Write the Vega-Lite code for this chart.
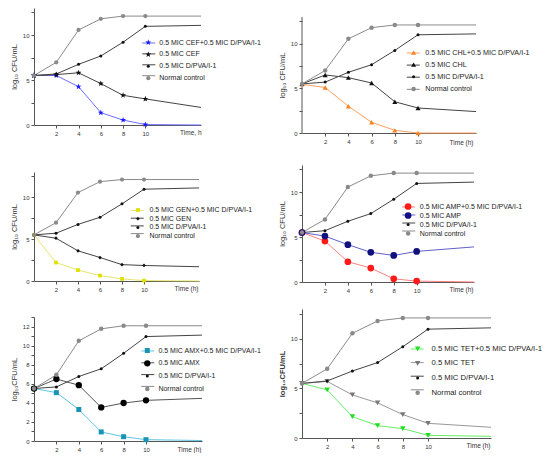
{
  "$schema": "https://vega.github.io/schema/vega-lite/v6.json",
  "padding": {"left": 10, "top": 8, "right": 0, "bottom": 0},
  "config": {
    "view": {"stroke": null},
    "font": "Liberation Sans",
    "axis": {"grid": false, "domainColor": "#555", "tickColor": "#555", "labelColor": "#333", "labelFontSize": 6, "titleFontSize": 7.5, "titleFontWeight": "normal", "titleColor": "#333", "tickSize": 3, "labelPadding": 2, "domainWidth": 1, "tickWidth": 1},
    "legend": {"padding": 0, "labelFontSize": 7, "labelColor": "#222", "title": null, "symbolStrokeWidth": 0}
  },
  "data": {"values": [
    {"p":1,"k":"a","s":"0.5 MIC CEF+0.5 MIC D/PVA/I-1","t":0,"y":5.5},{"p":1,"k":"a","s":"0.5 MIC CEF+0.5 MIC D/PVA/I-1","t":2,"y":5.5},{"p":1,"k":"a","s":"0.5 MIC CEF+0.5 MIC D/PVA/I-1","t":4,"y":4.26},{"p":1,"k":"a","s":"0.5 MIC CEF+0.5 MIC D/PVA/I-1","t":6,"y":1.37},{"p":1,"k":"a","s":"0.5 MIC CEF+0.5 MIC D/PVA/I-1","t":8,"y":0.55},{"p":1,"k":"a","s":"0.5 MIC CEF+0.5 MIC D/PVA/I-1","t":10,"y":0.05},{"p":1,"k":"a","s":"0.5 MIC CEF+0.5 MIC D/PVA/I-1","t":15,"y":0.0},
    {"p":1,"k":"b","s":"0.5 MIC CEF","t":0,"y":5.5},{"p":1,"k":"b","s":"0.5 MIC CEF","t":2,"y":5.6},{"p":1,"k":"b","s":"0.5 MIC CEF","t":4,"y":5.8},{"p":1,"k":"b","s":"0.5 MIC CEF","t":6,"y":4.6},{"p":1,"k":"b","s":"0.5 MIC CEF","t":8,"y":3.3},{"p":1,"k":"b","s":"0.5 MIC CEF","t":10,"y":2.9},{"p":1,"k":"b","s":"0.5 MIC CEF","t":15,"y":1.95},
    {"p":1,"k":"c","s":"0.5 MIC D/PVA/I-1","t":0,"y":5.5},{"p":1,"k":"c","s":"0.5 MIC D/PVA/I-1","t":2,"y":5.67},{"p":1,"k":"c","s":"0.5 MIC D/PVA/I-1","t":4,"y":6.74},{"p":1,"k":"c","s":"0.5 MIC D/PVA/I-1","t":6,"y":7.67},{"p":1,"k":"c","s":"0.5 MIC D/PVA/I-1","t":8,"y":9.2},{"p":1,"k":"c","s":"0.5 MIC D/PVA/I-1","t":10,"y":10.96},{"p":1,"k":"c","s":"0.5 MIC D/PVA/I-1","t":15,"y":11.07},
    {"p":1,"k":"d","s":"Normal control","t":0,"y":5.5},{"p":1,"k":"d","s":"Normal control","t":2,"y":6.96},{"p":1,"k":"d","s":"Normal control","t":4,"y":10.56},{"p":1,"k":"d","s":"Normal control","t":6,"y":11.8},{"p":1,"k":"d","s":"Normal control","t":8,"y":12.1},{"p":1,"k":"d","s":"Normal control","t":10,"y":12.1},{"p":1,"k":"d","s":"Normal control","t":15,"y":12.1},

    {"p":2,"k":"a","s":"0.5 MIC CHL+0.5 MIC D/PVA/I-1","t":0,"y":5.45},{"p":2,"k":"a","s":"0.5 MIC CHL+0.5 MIC D/PVA/I-1","t":2,"y":5.1},{"p":2,"k":"a","s":"0.5 MIC CHL+0.5 MIC D/PVA/I-1","t":4,"y":3.0},{"p":2,"k":"a","s":"0.5 MIC CHL+0.5 MIC D/PVA/I-1","t":6,"y":1.2},{"p":2,"k":"a","s":"0.5 MIC CHL+0.5 MIC D/PVA/I-1","t":8,"y":0.3},{"p":2,"k":"a","s":"0.5 MIC CHL+0.5 MIC D/PVA/I-1","t":10,"y":0.0},{"p":2,"k":"a","s":"0.5 MIC CHL+0.5 MIC D/PVA/I-1","t":15,"y":0.0},
    {"p":2,"k":"b","s":"0.5 MIC CHL","t":0,"y":5.5},{"p":2,"k":"b","s":"0.5 MIC CHL","t":2,"y":6.5},{"p":2,"k":"b","s":"0.5 MIC CHL","t":4,"y":6.2},{"p":2,"k":"b","s":"0.5 MIC CHL","t":6,"y":5.6},{"p":2,"k":"b","s":"0.5 MIC CHL","t":8,"y":3.5},{"p":2,"k":"b","s":"0.5 MIC CHL","t":10,"y":2.8},{"p":2,"k":"b","s":"0.5 MIC CHL","t":15,"y":2.4},
    {"p":2,"k":"c","s":"0.5 MIC D/PVA/I-1","t":0,"y":5.5},{"p":2,"k":"c","s":"0.5 MIC D/PVA/I-1","t":2,"y":5.7},{"p":2,"k":"c","s":"0.5 MIC D/PVA/I-1","t":4,"y":6.8},{"p":2,"k":"c","s":"0.5 MIC D/PVA/I-1","t":6,"y":7.65},{"p":2,"k":"c","s":"0.5 MIC D/PVA/I-1","t":8,"y":9.25},{"p":2,"k":"c","s":"0.5 MIC D/PVA/I-1","t":10,"y":11.0},{"p":2,"k":"c","s":"0.5 MIC D/PVA/I-1","t":15,"y":11.1},
    {"p":2,"k":"d","s":"Normal control","t":0,"y":5.5},{"p":2,"k":"d","s":"Normal control","t":2,"y":7.0},{"p":2,"k":"d","s":"Normal control","t":4,"y":10.55},{"p":2,"k":"d","s":"Normal control","t":6,"y":11.8},{"p":2,"k":"d","s":"Normal control","t":8,"y":12.1},{"p":2,"k":"d","s":"Normal control","t":10,"y":12.1},{"p":2,"k":"d","s":"Normal control","t":15,"y":12.1},

    {"p":3,"k":"a","s":"0.5 MIC GEN+0.5 MIC D/PVA/I-1","t":0,"y":5.5},{"p":3,"k":"a","s":"0.5 MIC GEN+0.5 MIC D/PVA/I-1","t":2,"y":2.2},{"p":3,"k":"a","s":"0.5 MIC GEN+0.5 MIC D/PVA/I-1","t":4,"y":1.3},{"p":3,"k":"a","s":"0.5 MIC GEN+0.5 MIC D/PVA/I-1","t":6,"y":0.65},{"p":3,"k":"a","s":"0.5 MIC GEN+0.5 MIC D/PVA/I-1","t":8,"y":0.25},{"p":3,"k":"a","s":"0.5 MIC GEN+0.5 MIC D/PVA/I-1","t":10,"y":0.05},{"p":3,"k":"a","s":"0.5 MIC GEN+0.5 MIC D/PVA/I-1","t":15,"y":0.0},
    {"p":3,"k":"b","s":"0.5 MIC GEN","t":0,"y":5.5},{"p":3,"k":"b","s":"0.5 MIC GEN","t":2,"y":5.1},{"p":3,"k":"b","s":"0.5 MIC GEN","t":4,"y":3.6},{"p":3,"k":"b","s":"0.5 MIC GEN","t":6,"y":2.8},{"p":3,"k":"b","s":"0.5 MIC GEN","t":8,"y":1.95},{"p":3,"k":"b","s":"0.5 MIC GEN","t":10,"y":1.85},{"p":3,"k":"b","s":"0.5 MIC GEN","t":15,"y":1.7},
    {"p":3,"k":"c","s":"0.5 MIC D/PVA/I-1","t":0,"y":5.5},{"p":3,"k":"c","s":"0.5 MIC D/PVA/I-1","t":2,"y":5.7},{"p":3,"k":"c","s":"0.5 MIC D/PVA/I-1","t":4,"y":6.75},{"p":3,"k":"c","s":"0.5 MIC D/PVA/I-1","t":6,"y":7.6},{"p":3,"k":"c","s":"0.5 MIC D/PVA/I-1","t":8,"y":9.2},{"p":3,"k":"c","s":"0.5 MIC D/PVA/I-1","t":10,"y":10.95},{"p":3,"k":"c","s":"0.5 MIC D/PVA/I-1","t":15,"y":11.1},
    {"p":3,"k":"d","s":"Normal control","t":0,"y":5.5},{"p":3,"k":"d","s":"Normal control","t":2,"y":6.95},{"p":3,"k":"d","s":"Normal control","t":4,"y":10.55},{"p":3,"k":"d","s":"Normal control","t":6,"y":11.85},{"p":3,"k":"d","s":"Normal control","t":8,"y":12.1},{"p":3,"k":"d","s":"Normal control","t":10,"y":12.1},{"p":3,"k":"d","s":"Normal control","t":15,"y":12.1},

    {"p":4,"k":"a","s":"0.5 MIC AMP+0.5 MIC D/PVA/I-1","t":0,"y":5.5},{"p":4,"k":"a","s":"0.5 MIC AMP+0.5 MIC D/PVA/I-1","t":2,"y":4.55},{"p":4,"k":"a","s":"0.5 MIC AMP+0.5 MIC D/PVA/I-1","t":4,"y":2.25},{"p":4,"k":"a","s":"0.5 MIC AMP+0.5 MIC D/PVA/I-1","t":6,"y":1.55},{"p":4,"k":"a","s":"0.5 MIC AMP+0.5 MIC D/PVA/I-1","t":8,"y":0.35},{"p":4,"k":"a","s":"0.5 MIC AMP+0.5 MIC D/PVA/I-1","t":10,"y":0.1},{"p":4,"k":"a","s":"0.5 MIC AMP+0.5 MIC D/PVA/I-1","t":15,"y":0.0},
    {"p":4,"k":"b","s":"0.5 MIC AMP","t":0,"y":5.5},{"p":4,"k":"b","s":"0.5 MIC AMP","t":2,"y":5.1},{"p":4,"k":"b","s":"0.5 MIC AMP","t":4,"y":4.15},{"p":4,"k":"b","s":"0.5 MIC AMP","t":6,"y":3.3},{"p":4,"k":"b","s":"0.5 MIC AMP","t":8,"y":2.95},{"p":4,"k":"b","s":"0.5 MIC AMP","t":10,"y":3.4},{"p":4,"k":"b","s":"0.5 MIC AMP","t":15,"y":3.9},
    {"p":4,"k":"c","s":"0.5 MIC D/PVA/I-1","t":0,"y":5.5},{"p":4,"k":"c","s":"0.5 MIC D/PVA/I-1","t":2,"y":5.7},{"p":4,"k":"c","s":"0.5 MIC D/PVA/I-1","t":4,"y":6.75},{"p":4,"k":"c","s":"0.5 MIC D/PVA/I-1","t":6,"y":7.6},{"p":4,"k":"c","s":"0.5 MIC D/PVA/I-1","t":8,"y":9.2},{"p":4,"k":"c","s":"0.5 MIC D/PVA/I-1","t":10,"y":10.95},{"p":4,"k":"c","s":"0.5 MIC D/PVA/I-1","t":15,"y":11.1},
    {"p":4,"k":"d","s":"Normal control","t":0,"y":5.5},{"p":4,"k":"d","s":"Normal control","t":2,"y":6.95},{"p":4,"k":"d","s":"Normal control","t":4,"y":10.55},{"p":4,"k":"d","s":"Normal control","t":6,"y":11.8},{"p":4,"k":"d","s":"Normal control","t":8,"y":12.1},{"p":4,"k":"d","s":"Normal control","t":10,"y":12.1},{"p":4,"k":"d","s":"Normal control","t":15,"y":12.1},

    {"p":5,"k":"a","s":"0.5 MIC AMX+0.5 MIC D/PVA/I-1","t":0,"y":5.5},{"p":5,"k":"a","s":"0.5 MIC AMX+0.5 MIC D/PVA/I-1","t":2,"y":5.07},{"p":5,"k":"a","s":"0.5 MIC AMX+0.5 MIC D/PVA/I-1","t":4,"y":3.3},{"p":5,"k":"a","s":"0.5 MIC AMX+0.5 MIC D/PVA/I-1","t":6,"y":0.95},{"p":5,"k":"a","s":"0.5 MIC AMX+0.5 MIC D/PVA/I-1","t":8,"y":0.45},{"p":5,"k":"a","s":"0.5 MIC AMX+0.5 MIC D/PVA/I-1","t":10,"y":0.14},{"p":5,"k":"a","s":"0.5 MIC AMX+0.5 MIC D/PVA/I-1","t":15,"y":0.05},
    {"p":5,"k":"b","s":"0.5 MIC AMX","t":0,"y":5.5},{"p":5,"k":"b","s":"0.5 MIC AMX","t":2,"y":6.5},{"p":5,"k":"b","s":"0.5 MIC AMX","t":4,"y":5.85},{"p":5,"k":"b","s":"0.5 MIC AMX","t":6,"y":3.52},{"p":5,"k":"b","s":"0.5 MIC AMX","t":8,"y":3.98},{"p":5,"k":"b","s":"0.5 MIC AMX","t":10,"y":4.26},{"p":5,"k":"b","s":"0.5 MIC AMX","t":15,"y":4.47},
    {"p":5,"k":"c","s":"0.5 MIC D/PVA/I-1","t":0,"y":5.5},{"p":5,"k":"c","s":"0.5 MIC D/PVA/I-1","t":2,"y":5.67},{"p":5,"k":"c","s":"0.5 MIC D/PVA/I-1","t":4,"y":6.76},{"p":5,"k":"c","s":"0.5 MIC D/PVA/I-1","t":6,"y":7.57},{"p":5,"k":"c","s":"0.5 MIC D/PVA/I-1","t":8,"y":9.19},{"p":5,"k":"c","s":"0.5 MIC D/PVA/I-1","t":10,"y":10.95},{"p":5,"k":"c","s":"0.5 MIC D/PVA/I-1","t":15,"y":11.1},
    {"p":5,"k":"d","s":"Normal control","t":0,"y":5.5},{"p":5,"k":"d","s":"Normal control","t":2,"y":6.94},{"p":5,"k":"d","s":"Normal control","t":4,"y":10.5},{"p":5,"k":"d","s":"Normal control","t":6,"y":11.76},{"p":5,"k":"d","s":"Normal control","t":8,"y":12.08},{"p":5,"k":"d","s":"Normal control","t":10,"y":12.08},{"p":5,"k":"d","s":"Normal control","t":15,"y":12.08},

    {"p":6,"k":"a","s":"0.5 MIC TET+0.5 MIC D/PVA/I-1","t":0,"y":5.5},{"p":6,"k":"a","s":"0.5 MIC TET+0.5 MIC D/PVA/I-1","t":2,"y":4.85},{"p":6,"k":"a","s":"0.5 MIC TET+0.5 MIC D/PVA/I-1","t":4,"y":2.15},{"p":6,"k":"a","s":"0.5 MIC TET+0.5 MIC D/PVA/I-1","t":6,"y":1.25},{"p":6,"k":"a","s":"0.5 MIC TET+0.5 MIC D/PVA/I-1","t":8,"y":0.94},{"p":6,"k":"a","s":"0.5 MIC TET+0.5 MIC D/PVA/I-1","t":10,"y":0.27},{"p":6,"k":"a","s":"0.5 MIC TET+0.5 MIC D/PVA/I-1","t":15,"y":0.17},
    {"p":6,"k":"b","s":"0.5 MIC TET","t":0,"y":5.5},{"p":6,"k":"b","s":"0.5 MIC TET","t":2,"y":5.7},{"p":6,"k":"b","s":"0.5 MIC TET","t":4,"y":4.34},{"p":6,"k":"b","s":"0.5 MIC TET","t":6,"y":3.54},{"p":6,"k":"b","s":"0.5 MIC TET","t":8,"y":2.36},{"p":6,"k":"b","s":"0.5 MIC TET","t":10,"y":1.48},{"p":6,"k":"b","s":"0.5 MIC TET","t":15,"y":1.08},
    {"p":6,"k":"c","s":"0.5 MIC D/PVA/I-1","t":0,"y":5.5},{"p":6,"k":"c","s":"0.5 MIC D/PVA/I-1","t":2,"y":5.75},{"p":6,"k":"c","s":"0.5 MIC D/PVA/I-1","t":4,"y":6.75},{"p":6,"k":"c","s":"0.5 MIC D/PVA/I-1","t":6,"y":7.6},{"p":6,"k":"c","s":"0.5 MIC D/PVA/I-1","t":8,"y":9.2},{"p":6,"k":"c","s":"0.5 MIC D/PVA/I-1","t":10,"y":10.97},{"p":6,"k":"c","s":"0.5 MIC D/PVA/I-1","t":15,"y":11.1},
    {"p":6,"k":"d","s":"Normal control","t":0,"y":5.5},{"p":6,"k":"d","s":"Normal control","t":2,"y":6.97},{"p":6,"k":"d","s":"Normal control","t":4,"y":10.55},{"p":6,"k":"d","s":"Normal control","t":6,"y":11.8},{"p":6,"k":"d","s":"Normal control","t":8,"y":12.1},{"p":6,"k":"d","s":"Normal control","t":10,"y":12.1},{"p":6,"k":"d","s":"Normal control","t":15,"y":12.1}
  ]},
  "resolve": {"scale": {"color": "independent", "stroke": "independent", "shape": "independent", "size": "independent"}, "legend": {"color": "independent", "stroke": "independent", "shape": "independent", "size": "independent"}},
  "align": "none",
  "spacing": 16,
  "hconcat": [
    {
      "spacing": 36,
      "resolve": {"scale": {"color": "independent", "stroke": "independent", "shape": "independent", "size": "independent"}, "legend": {"color": "independent", "stroke": "independent", "shape": "independent", "size": "independent"}},
      "vconcat": [
        {
          "width": 167, "height": 117,
          "transform": [{"filter": "datum.p == 1"}],
          "encoding": {
            "x": {"field": "t", "type": "quantitative", "scale": {"domain": [0, 15], "nice": false}, "axis": {"values": [2, 4, 6, 8, 10], "title": "Time, h", "titleFontSize": 6.5, "titleX": 167, "titleY": 7, "titleAlign": "right", "titleBaseline": "middle"}},
            "y": {"field": "y", "type": "quantitative", "scale": {"domain": [0, 13], "nice": false}, "axis": {"values": [0, 2.5, 5, 7.5, 10, 12.5], "labelExpr": "datum.value % 5 == 0 ? datum.label : ''", "title": "log₁₀ CFU/mL"}}
          },
          "layer": [
            {"mark": {"type": "line", "strokeWidth": 1},
             "encoding": {"stroke": {"field": "s", "type": "nominal", "sort": {"field": "k", "op": "min"}, "scale": {"range": ["#6e6eff", "#444444", "#444444", "#8a8a8a"]},
               "legend": {"orient": "none", "legendX": 110.75, "legendY": 31, "symbolType": "M-2,0L2,0", "symbolSize": 42.25, "symbolStrokeWidth": 1, "labelOpacity": 0, "rowPadding": 3.9, "labelFontSize": 7}}}},
            {"transform": [{"filter": "datum.t <= 10"}],
             "mark": {"type": "point", "filled": true, "opacity": 1},
             "encoding": {
               "color": {"field": "s", "type": "nominal", "sort": {"field": "k", "op": "min"}, "scale": {"range": ["#1a1aff", "#111111", "#111111", "#8a8a8a"]},
                 "legend": {"orient": "none", "legendX": 110.8, "legendY": 31, "labelOffset": 7.5, "rowPadding": 3.9, "labelFontSize": 7}},
               "shape": {"field": "s", "type": "nominal", "sort": {"field": "k", "op": "min"}, "scale": {"range": ["M0,-1L0.235,-0.324L0.951,-0.309L0.38,0.124L0.588,0.809L0,0.4L-0.588,0.809L-0.38,0.124L-0.951,-0.309L-0.235,-0.324Z", "M0,-1L0.235,-0.324L0.951,-0.309L0.38,0.124L0.588,0.809L0,0.4L-0.588,0.809L-0.38,0.124L-0.951,-0.309L-0.235,-0.324Z", "circle", "circle"]}},
               "size": {"field": "s", "type": "nominal", "sort": {"field": "k", "op": "min"}, "scale": {"type": "ordinal", "range": [40, 40, 9, 18]}}
             }}
          ]
        },
        {
          "spacing": 24,
          "resolve": {"scale": {"color": "independent", "stroke": "independent", "shape": "independent", "size": "independent"}, "legend": {"color": "independent", "stroke": "independent", "shape": "independent", "size": "independent"}},
          "vconcat": [
            {
              "width": 165, "height": 109,
              "transform": [{"filter": "datum.p == 3"}],
              "encoding": {
                "x": {"field": "t", "type": "quantitative", "scale": {"domain": [0, 15], "nice": false}, "axis": {"values": [2, 4, 6, 8, 10], "title": "Time (h)", "titleFontSize": 6.5, "titleX": 164, "titleY": 7, "titleAlign": "right", "titleBaseline": "middle"}},
                "y": {"field": "y", "type": "quantitative", "scale": {"domain": [0, 13], "nice": false}, "axis": {"values": [0, 2.5, 5, 7.5, 10, 12.5], "labelExpr": "datum.value % 5 == 0 ? datum.label : ''", "title": "log₁₀ CFU/mL"}}
              },
              "layer": [
                {"mark": {"type": "line", "strokeWidth": 1},
                 "encoding": {"stroke": {"field": "s", "type": "nominal", "sort": {"field": "k", "op": "min"}, "scale": {"range": ["#e6e66e", "#444444", "#444444", "#8a8a8a"]},
                   "legend": {"orient": "none", "legendX": 99.25, "legendY": 34.5, "symbolType": "M-2,0L2,0", "symbolSize": 42.25, "symbolStrokeWidth": 1, "labelOpacity": 0, "rowPadding": 0.7, "labelFontSize": 7}}}},
                {"transform": [{"filter": "datum.t <= 10"}],
                 "mark": {"type": "point", "filled": true, "opacity": 1},
                 "encoding": {
                   "color": {"field": "s", "type": "nominal", "sort": {"field": "k", "op": "min"}, "scale": {"range": ["#e0e000", "#111111", "#111111", "#8a8a8a"]},
                     "legend": {"orient": "none", "legendX": 100.4, "legendY": 34.5, "labelOffset": 8, "rowPadding": 0.7, "labelFontSize": 7}},
                   "shape": {"field": "s", "type": "nominal", "sort": {"field": "k", "op": "min"}, "scale": {"range": ["square", "diamond", "circle", "circle"]}},
                   "size": {"field": "s", "type": "nominal", "sort": {"field": "k", "op": "min"}, "scale": {"type": "ordinal", "range": [14, 14, 9, 18]}}
                 }}
              ]
            },
            {
              "width": 168, "height": 124,
              "transform": [{"filter": "datum.p == 5"}],
              "encoding": {
                "x": {"field": "t", "type": "quantitative", "scale": {"domain": [0, 15], "nice": false}, "axis": {"values": [2, 4, 6, 8, 10], "title": "Time (h)", "titleFontSize": 6.5, "titleX": 167, "titleY": 8, "titleAlign": "right", "titleBaseline": "middle"}},
                "y": {"field": "y", "type": "quantitative", "scale": {"domain": [0, 13], "nice": false}, "axis": {"values": [0, 1, 2, 3, 4, 5, 6, 7, 8, 9, 10, 11, 12, 13], "labelExpr": "datum.value % 2 == 0 ? datum.label : ''", "title": "log₁₀CFU/mL"}}
              },
              "layer": [
                {"mark": {"type": "line", "strokeWidth": 1},
                 "encoding": {"stroke": {"field": "s", "type": "nominal", "sort": {"field": "k", "op": "min"}, "scale": {"range": ["#5ec4e4", "#555555", "#444444", "#8a8a8a"]},
                   "legend": {"orient": "none", "legendX": 109.75, "legendY": 30, "symbolType": "M-2,0L2,0", "symbolSize": 42.25, "symbolStrokeWidth": 1, "labelOpacity": 0, "rowPadding": 4.8, "labelFontSize": 7}}}},
                {"transform": [{"filter": "datum.t <= 10"}],
                 "mark": {"type": "point", "filled": true, "opacity": 1},
                 "encoding": {
                   "color": {"field": "s", "type": "nominal", "sort": {"field": "k", "op": "min"}, "scale": {"range": ["#1a94b4", "#000000", "#111111", "#8a8a8a"]},
                     "legend": {"orient": "none", "legendX": 109.8, "legendY": 30, "labelOffset": 7.6, "rowPadding": 4.8, "labelFontSize": 7}},
                   "shape": {"field": "s", "type": "nominal", "sort": {"field": "k", "op": "min"}, "scale": {"range": ["square", "circle", "circle", "circle"]}},
                   "size": {"field": "s", "type": "nominal", "sort": {"field": "k", "op": "min"}, "scale": {"type": "ordinal", "range": [25, 40, 9, 20]}}
                 }}
              ]
            }
          ]
        }
      ]
    },
    {
      "spacing": 19,
      "resolve": {"scale": {"color": "independent", "stroke": "independent", "shape": "independent", "size": "independent"}, "legend": {"color": "independent", "stroke": "independent", "shape": "independent", "size": "independent"}},
      "vconcat": [
        {
          "width": 174, "height": 125,
          "transform": [{"filter": "datum.p == 2"}],
          "encoding": {
            "x": {"field": "t", "type": "quantitative", "scale": {"domain": [0, 15], "nice": false}, "axis": {"values": [2, 4, 6, 8, 10], "title": "Time (h)", "titleFontSize": 6.5, "titleX": 171, "titleY": 9, "titleAlign": "right", "titleBaseline": "middle"}},
            "y": {"field": "y", "type": "quantitative", "scale": {"domain": [0, 14], "nice": false}, "axis": {"values": [0, 2.5, 5, 7.5, 10, 12.5], "labelExpr": "datum.value % 5 == 0 ? datum.label : ''", "title": "log₁₀ CFU/mL", "domain": false, "titleY": 67}}
          },
          "layer": [
            {"transform": [{"filter": "datum.t == 0 && datum.k == 'a'"}],
             "mark": {"type": "rule", "color": "#555555", "strokeWidth": 1},
             "encoding": {"x": {"datum": 0, "type": "quantitative"}, "y": {"datum": 0, "type": "quantitative"}, "y2": {"datum": 13}}},
            {"mark": {"type": "line", "strokeWidth": 1},
             "encoding": {"stroke": {"field": "s", "type": "nominal", "sort": {"field": "k", "op": "min"}, "scale": {"range": ["#ffa060", "#444444", "#444444", "#8a8a8a"]},
               "legend": {"orient": "none", "legendX": 107.25, "legendY": 41, "symbolType": "M-2,0L2,0", "symbolSize": 42.25, "symbolStrokeWidth": 1, "labelOpacity": 0, "rowPadding": 4.1, "labelFontSize": 7.2}}}},
            {"transform": [{"filter": "datum.t <= 10"}],
             "mark": {"type": "point", "filled": true, "opacity": 1},
             "encoding": {
               "color": {"field": "s", "type": "nominal", "sort": {"field": "k", "op": "min"}, "scale": {"range": ["#ff7f1a", "#111111", "#111111", "#8a8a8a"]},
                 "legend": {"orient": "none", "legendX": 108, "legendY": 41, "labelOffset": 8, "rowPadding": 4.1, "labelFontSize": 7.2}},
               "shape": {"field": "s", "type": "nominal", "sort": {"field": "k", "op": "min"}, "scale": {"range": ["triangle-up", "triangle-up", "circle", "circle"]}},
               "size": {"field": "s", "type": "nominal", "sort": {"field": "k", "op": "min"}, "scale": {"type": "ordinal", "range": [25, 25, 9, 20]}}
             }}
          ]
        },
        {
          "spacing": 16,
          "resolve": {"scale": {"color": "independent", "stroke": "independent", "shape": "independent", "size": "independent"}, "legend": {"color": "independent", "stroke": "independent", "shape": "independent", "size": "independent"}},
          "vconcat": [
            {
              "width": 172, "height": 117,
              "transform": [{"filter": "datum.p == 4"}],
              "encoding": {
                "x": {"field": "t", "type": "quantitative", "scale": {"domain": [0, 15], "nice": false}, "axis": {"values": [2, 4, 6, 8, 10], "title": "Time (h)", "titleFontSize": 6.5, "titleX": 171, "titleY": 7, "titleAlign": "right", "titleBaseline": "middle"}},
                "y": {"field": "y", "type": "quantitative", "scale": {"domain": [0, 13], "nice": false}, "axis": {"values": [0, 2.5, 5, 7.5, 10, 12.5], "labelExpr": "datum.value % 5 == 0 ? datum.label : ''", "title": "log₁₀ CFU/mL"}}
              },
              "layer": [
                {"mark": {"type": "line", "strokeWidth": 1},
                 "encoding": {"stroke": {"field": "s", "type": "nominal", "sort": {"field": "k", "op": "min"}, "scale": {"range": ["#ff8080", "#6060c8", "#444444", "#8a8a8a"]},
                   "legend": {"orient": "none", "legendX": 102.75, "legendY": 38, "symbolType": "M-2,0L2,0", "symbolSize": 42.25, "symbolStrokeWidth": 1, "labelOpacity": 0, "rowPadding": 1.0, "labelFontSize": 7}}}},
                {"transform": [{"filter": "datum.t <= 10"}],
                 "mark": {"type": "point", "filled": true, "opacity": 1},
                 "encoding": {
                   "color": {"field": "s", "type": "nominal", "sort": {"field": "k", "op": "min"}, "scale": {"range": ["#ff1a1a", "#10107e", "#111111", "#8a8a8a"]},
                     "legend": {"orient": "none", "legendX": 102.6, "legendY": 38, "labelOffset": 8.2, "rowPadding": 1.0, "labelFontSize": 7}},
                   "shape": {"field": "s", "type": "nominal", "sort": {"field": "k", "op": "min"}, "scale": {"range": ["circle", "circle", "circle", "circle"]}},
                   "size": {"field": "s", "type": "nominal", "sort": {"field": "k", "op": "min"}, "scale": {"type": "ordinal", "range": [45, 45, 9, 20]}}
                 }}
              ]
            },
            {
              "width": 189, "height": 129,
              "transform": [{"filter": "datum.p == 6"}],
              "encoding": {
                "x": {"field": "t", "type": "quantitative", "scale": {"domain": [0, 15], "nice": false}, "axis": {"values": [2, 4, 6, 8, 10], "title": "Time (h)", "titleFontSize": 6.5, "titleX": 188, "titleY": 7, "titleAlign": "right", "titleBaseline": "middle"}},
                "y": {"field": "y", "type": "quantitative", "scale": {"domain": [0, 13], "nice": false}, "axis": {"values": [0, 2.5, 5, 7.5, 10, 12.5], "labelExpr": "datum.value % 5 == 0 ? datum.label : ''", "title": "log₁₀CFU/mL", "titleFontWeight": "bold"}}
              },
              "layer": [
                {"mark": {"type": "line", "strokeWidth": 1},
                 "encoding": {"stroke": {"field": "s", "type": "nominal", "sort": {"field": "k", "op": "min"}, "scale": {"range": ["#66ee66", "#999999", "#444444", "#8a8a8a"]},
                   "legend": {"orient": "none", "legendX": 111.25, "legendY": 36, "symbolType": "M-2,0L2,0", "symbolSize": 42.25, "symbolStrokeWidth": 1, "labelOpacity": 0, "rowPadding": 5.6, "labelFontSize": 7.7}}}},
                {"transform": [{"filter": "datum.t <= 10"}],
                 "mark": {"type": "point", "filled": true, "opacity": 1},
                 "encoding": {
                   "color": {"field": "s", "type": "nominal", "sort": {"field": "k", "op": "min"}, "scale": {"range": ["#22dd22", "#777777", "#111111", "#8a8a8a"]},
                     "legend": {"orient": "none", "legendX": 111.8, "legendY": 36, "labelOffset": 10, "rowPadding": 5.6, "labelFontSize": 7.7}},
                   "shape": {"field": "s", "type": "nominal", "sort": {"field": "k", "op": "min"}, "scale": {"range": ["triangle-down", "triangle-down", "circle", "circle"]}},
                   "size": {"field": "s", "type": "nominal", "sort": {"field": "k", "op": "min"}, "scale": {"type": "ordinal", "range": [30, 30, 9, 20]}}
                 }}
              ]
            }
          ]
        }
      ]
    }
  ]
}
